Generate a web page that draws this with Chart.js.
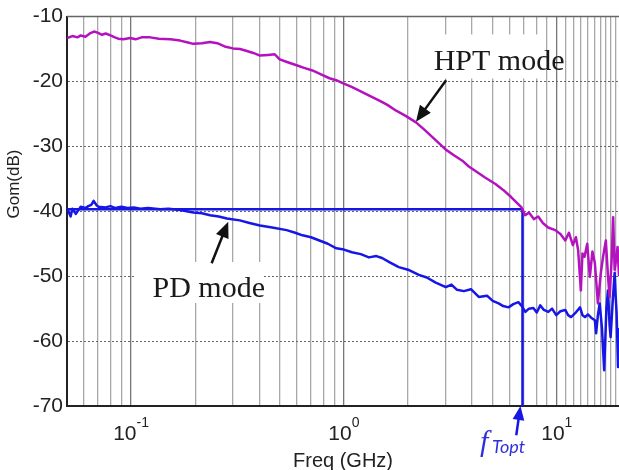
<!DOCTYPE html>
<html>
<head>
<meta charset="utf-8">
<script src="https://cdn.jsdelivr.net/npm/chart.js@4"></script>
<style>
	html, body { margin: 0; padding: 0; background: #fff; }
	canvas { display: block; }
</style>
</head>
<body>
<canvas id="chart" width="619" height="470"></canvas>
<script>
// HPT mode trace (GHz, dB)
const hptFreq = [
	0.050, 0.053, 0.056, 0.058, 0.061, 0.064, 0.067, 0.070, 0.073, 0.076,
	0.080, 0.084, 0.087, 0.092, 0.099, 0.105, 0.112, 0.123, 0.135, 0.153,
	0.170, 0.185, 0.196, 0.215, 0.235, 0.254, 0.275, 0.301, 0.325, 0.350,
	0.375, 0.403, 0.440, 0.473, 0.499, 0.540, 0.599, 0.650, 0.711, 0.780,
	0.855, 0.920, 0.980, 1.08, 1.18, 1.30, 1.46, 1.60, 1.76, 1.95,
	2.18, 2.40, 2.65, 3.01, 3.30, 3.60, 3.86, 4.20, 4.60, 5.15,
	5.60, 6.10, 6.50, 6.83, 7.10, 7.40, 7.80, 8.18, 8.60, 9.10,
	9.84, 10.4, 10.96, 11.4, 11.9, 12.3, 12.6, 12.97, 13.2, 13.5,
	13.9, 14.3, 14.7, 15.1, 15.6, 16.1, 16.5, 17.0, 17.4, 17.7,
	18.1, 18.4, 18.7, 18.9, 19.3, 19.6
];
const hptGain = [
	-13.3, -13.0, -13.2, -12.9, -13.1, -12.6, -12.3, -12.5, -12.8, -12.6,
	-12.9, -13.2, -13.4, -13.5, -13.3, -13.5, -13.2, -13.2, -13.4, -13.5,
	-13.7, -14.0, -14.2, -14.1, -13.9, -14.1, -14.6, -14.9, -15.0, -15.3,
	-15.6, -16.0, -15.9, -15.8, -16.6, -17.0, -17.5, -17.9, -18.3, -18.9,
	-19.5, -19.8, -20.2, -20.8, -21.4, -22.1, -22.9, -23.6, -24.5, -25.3,
	-26.3, -27.5, -28.8, -30.5, -31.4, -32.2, -33.1, -33.9, -34.8, -35.8,
	-36.7, -37.8, -38.7, -39.4, -40.6, -40.2, -41.2, -40.8, -41.8, -42.5,
	-42.9, -43.5, -44.5, -43.3, -45.2, -44.0, -46.0, -52.2, -46.5, -47.0,
	-45.0, -50.1, -46.2, -48.0, -54.2, -49.5, -47.0, -44.5, -50.0, -53.2,
	-47.5, -40.9, -49.0, -48.0, -45.5, -50.0
];

// PD mode trace (GHz, dB)
const pdFreq = [
	0.0505, 0.052, 0.053, 0.055, 0.058, 0.061, 0.063, 0.065, 0.0667, 0.069,
	0.0704, 0.0759, 0.080, 0.0845, 0.090, 0.0962, 0.103, 0.1106, 0.120, 0.137,
	0.150, 0.170, 0.196, 0.215, 0.235, 0.258, 0.282, 0.324, 0.360, 0.403,
	0.460, 0.538, 0.590, 0.639, 0.700, 0.767, 0.840, 0.921, 1.00, 1.09,
	1.20, 1.31, 1.42, 1.51, 1.65, 1.81, 2.00, 2.25, 2.45, 2.70,
	3.01, 3.20, 3.40, 3.66, 3.95, 4.30, 4.70, 5.00, 5.33, 5.60,
	5.93, 6.25, 6.60, 6.85, 7.12, 7.40, 7.76, 8.05, 8.36, 8.70,
	9.12, 9.50, 9.94, 10.4, 10.96, 11.3, 11.67, 12.2, 12.86, 13.2,
	13.57, 14.0, 14.5, 15.1, 15.3, 15.6, 15.9, 16.3, 16.7, 17.1,
	17.4, 17.7, 17.9, 18.3, 18.7, 18.9, 19.1, 19.4, 19.6
];
const pdGain = [
	-39.8, -40.8, -39.6, -40.4, -39.3, -39.5, -39.2, -39.0, -38.4, -39.1,
	-39.3, -39.4, -39.2, -39.5, -39.3, -39.5, -39.4, -39.6, -39.5, -39.7,
	-39.6, -39.8, -40.2, -40.3, -40.6, -40.8, -41.1, -41.4, -41.8, -42.2,
	-42.5, -42.9, -43.3, -43.7, -44.0, -44.5, -45.0, -45.7, -45.9, -46.3,
	-46.6, -47.1, -46.9, -47.2, -47.9, -48.6, -49.0, -49.8, -50.2, -51.0,
	-51.7, -51.3, -52.1, -52.3, -52.0, -53.2, -53.0, -53.8, -54.2, -54.6,
	-54.8, -54.3, -54.0, -54.6, -55.5, -55.0, -54.9, -55.6, -54.5, -55.2,
	-55.5, -55.0, -56.0, -55.4, -55.2, -56.0, -56.3, -55.7, -54.8, -56.0,
	-56.3, -55.9, -56.4, -56.8, -58.8, -56.0, -54.2, -58.0, -64.5, -55.0,
	-52.2, -57.5, -59.4, -54.0, -49.5, -53.0, -55.7, -64.0, -58.0
];

// f_Topt marker: level line then drop to the axis
const markerFreq = [0.05, 6.9, 6.9];
const markerGain = [-39.7, -39.7, -70];

const xGridValues = [
	0.06, 0.07, 0.08, 0.09,
	0.1, 0.2, 0.3, 0.4, 0.5, 0.6, 0.7, 0.8, 0.9,
	1, 2, 3, 4, 5, 6, 7, 8, 9,
	10, 11, 12, 13, 14, 15, 16, 17, 18, 19
];
const xLabelValues = [0.1, 1, 10];
const xLabelExps = ['-1', '0', '1'];
const yTickValues = [-70, -60, -50, -40, -30, -20, -10];

const SANS = '"Liberation Sans", Arial, sans-serif';
const SERIF = '"Liberation Serif", "Times New Roman", serif';
const MAGENTA = '#b412be';
const BLUE = '#1616e6';

const toPoints = ( xs, ys ) => xs.map( ( x, i ) => ( { x, y: ys[ i ] } ) );

function arrow( ctx, x1, y1, x2, y2, color, head ) {
	const a = Math.atan2( y2 - y1, x2 - x1 );
	const cos = Math.cos( a );
	const sin = Math.sin( a );
	ctx.strokeStyle = color;
	ctx.fillStyle = color;
	ctx.lineWidth = 2.5;
	ctx.beginPath();
	ctx.moveTo( x1, y1 );
	ctx.lineTo( x2 - head * 0.8 * cos, y2 - head * 0.8 * sin );
	ctx.stroke();
	ctx.beginPath();
	ctx.moveTo( x2, y2 );
	ctx.lineTo( x2 - head * cos + head * 0.42 * sin, y2 - head * sin - head * 0.42 * cos );
	ctx.lineTo( x2 - head * cos - head * 0.42 * sin, y2 - head * sin + head * 0.42 * cos );
	ctx.closePath();
	ctx.fill();
}

// labels, arrows and the bits Chart.js has no option for
const annotate = {
	id: 'annotate',
	beforeDatasetsDraw( chart ) {
		const { ctx, scales: { x, y } } = chart;
		ctx.save();
		ctx.fillStyle = '#fff';
		// text boxes hide the grid behind the labels
		let px = x.getPixelForValue( 2.64 );
		let py = y.getPixelForValue( -18.3 );
		ctx.fillRect( px - 3, py - 36, 113, 44 );
		px = x.getPixelForValue( 0.126 );
		py = y.getPixelForValue( -53.2 );
		ctx.fillRect( px - 18, py - 35, 128, 41 );
		ctx.restore();
	},
	afterDatasetsDraw( chart ) {
		const { ctx, scales: { x, y } } = chart;
		ctx.save();
		ctx.fillStyle = '#1a1a1a';
		ctx.font = '30px ' + SERIF;
		ctx.textBaseline = 'alphabetic';
		ctx.fillText( 'HPT mode', x.getPixelForValue( 2.64 ), y.getPixelForValue( -18.3 ) );
		ctx.fillText( 'PD mode', x.getPixelForValue( 0.126 ), y.getPixelForValue( -53.2 ) );
		arrow( ctx, x.getPixelForValue( 3.02 ), y.getPixelForValue( -19.8 ),
			x.getPixelForValue( 2.18 ), y.getPixelForValue( -26.2 ), '#111', 16 );
		arrow( ctx, x.getPixelForValue( 0.239 ), y.getPixelForValue( -48.0 ),
			x.getPixelForValue( 0.286 ), y.getPixelForValue( -41.6 ), '#111', 16 );
		ctx.restore();
	},
	afterDraw( chart ) {
		const { ctx, chartArea, scales: { x, y } } = chart;
		ctx.save();
		// top frame
		ctx.strokeStyle = '#666';
		ctx.lineWidth = 1.5;
		ctx.beginPath();
		ctx.moveTo( chartArea.left, chartArea.top );
		ctx.lineTo( chartArea.right, chartArea.top );
		ctx.stroke();

		// decade labels with exponents
		ctx.fillStyle = '#222';
		ctx.textBaseline = 'alphabetic';
		ctx.textAlign = 'left';
		xLabelValues.forEach( ( v, i ) => {
			const px = x.getPixelForValue( v );
			ctx.font = '21px ' + SANS;
			const wBase = ctx.measureText( '10' ).width;
			ctx.font = '14px ' + SANS;
			const wExp = ctx.measureText( xLabelExps[ i ] ).width;
			const start = px - ( wBase + wExp ) / 2;
			ctx.font = '21px ' + SANS;
			ctx.fillText( '10', start, chartArea.bottom + 34 );
			ctx.font = '14px ' + SANS;
			ctx.fillText( xLabelExps[ i ], start + wBase, chartArea.bottom + 21 );
		} );

		// axis titles
		ctx.font = '20px ' + SANS;
		ctx.textAlign = 'center';
		ctx.fillText( 'Freq (GHz)', ( chartArea.left + chartArea.right ) / 2, chartArea.bottom + 61 );
		ctx.save();
		ctx.translate( 19, 184 );
		ctx.rotate( -Math.PI / 2 );
		ctx.font = '17px ' + SANS;
		ctx.fillText( 'Gom(dB)', 0, 0 );
		ctx.restore();

		// f_Topt
		arrow( ctx, x.getPixelForValue( 6.45 ), y.getPixelForValue( -74.5 ),
			x.getPixelForValue( 6.75 ), y.getPixelForValue( -70 ), BLUE, 14 );
		ctx.fillStyle = '#3030d8';
		ctx.textAlign = 'left';
		ctx.font = 'italic 30px ' + SERIF;
		ctx.fillText( 'f', 480, chartArea.bottom + 45 );
		ctx.font = 'italic 18px Lato, ' + SANS;
		ctx.fillText( 'Topt', 492, chartArea.bottom + 47 );
		ctx.restore();
	},
};

new Chart( document.getElementById( 'chart' ), {
	type: 'line',
	data: {
		datasets: [
			{
				data: toPoints( hptFreq, hptGain ),
				borderColor: MAGENTA,
				borderWidth: 2.5,
			},
			{
				data: toPoints( pdFreq, pdGain ),
				borderColor: BLUE,
				borderWidth: 2.5,
			},
			{
				data: toPoints( markerFreq, markerGain ),
				borderColor: BLUE,
				borderWidth: 2.5,
			},
		],
	},
	options: {
		responsive: false,
		animation: false,
		events: [],
		layout: { padding: { top: 16, right: 0, left: 0, bottom: 0 } },
		elements: {
			point: { radius: 0 },
			line: { tension: 0, borderJoinStyle: 'round' },
		},
		plugins: {
			legend: { display: false },
			tooltip: { enabled: false },
		},
		scales: {
			x: {
				type: 'logarithmic',
				min: 0.05,
				max: 19.6,
				afterBuildTicks( scale ) {
					scale.ticks = xGridValues.map( ( value ) => ( { value } ) );
				},
				afterFit( scale ) {
					scale.height = 64;
				},
				ticks: { display: false },
				grid: {
					drawTicks: false,
					color( c ) {
						return [ 0.1, 1, 10 ].includes( c.tick && c.tick.value ) ? '#777' : '#a8a8a8';
					},
					lineWidth: 1.3,
				},
				border: { color: '#222', width: 2 },
			},
			y: {
				min: -70,
				max: -10,
				afterBuildTicks( scale ) {
					scale.ticks = yTickValues.map( ( value ) => ( { value } ) );
				},
				afterFit( scale ) {
					scale.width = 67;
				},
				ticks: {
					color: '#222',
					padding: 4,
					font: { family: SANS, size: 21 },
				},
				grid: {
					drawTicks: false,
					color: '#666',
					lineWidth: 1,
				},
				border: { color: '#222', width: 2, dash: [ 2, 2 ] },
			},
		},
	},
	plugins: [ annotate ],
} );
</script>
</body>
</html>
